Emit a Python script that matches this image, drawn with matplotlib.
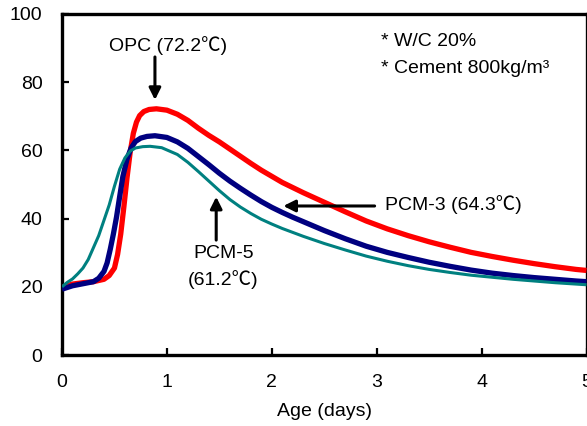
import matplotlib
matplotlib.use("Agg")
import matplotlib.pyplot as plt

plt.rcParams['font.family'] = ['Liberation Sans', 'Noto Sans CJK KR', 'DejaVu Sans']

# OPC (red)
opc_x = [0, 0.1, 0.2, 0.3, 0.4, 0.45, 0.5, 0.53, 0.56, 0.59, 0.62, 0.65, 0.68, 0.71, 0.74, 0.78, 0.83,
         0.9, 1.0, 1.1, 1.2, 1.3, 1.4, 1.5, 1.6, 1.7, 1.8, 1.9, 2.0, 2.1, 2.3, 2.5, 2.7, 2.9,
         3.1, 3.3, 3.5, 3.7, 3.9, 4.1, 4.3, 4.5, 4.7, 4.9, 5.0]
opc_y = [19.8, 20.8, 21.2, 21.5, 22.2, 23.3, 25.5, 29.5, 35.5, 43.5, 52, 59.5, 65, 68.3, 70.2, 71.4, 72.0,
         72.2, 71.8, 70.6, 68.8, 66.5, 64.4, 62.5, 60.4, 58.3, 56.2, 54.2, 52.4, 50.6, 47.6, 44.8, 42.0, 39.3,
         37.0, 35.0, 33.2, 31.6, 30.1, 28.9, 27.8, 26.8, 25.9, 25.1, 24.8]

# PCM-3 (navy)
pcm3_x = [0, 0.1, 0.2, 0.3, 0.35, 0.4, 0.43, 0.46, 0.49, 0.52, 0.55, 0.58, 0.62, 0.66, 0.7, 0.75, 0.81,
          0.886, 1.0, 1.1, 1.2, 1.3, 1.4, 1.5, 1.6, 1.7, 1.8, 1.9, 2.0, 2.1, 2.2, 2.3, 2.5, 2.7, 2.9,
          3.1, 3.3, 3.5, 3.7, 3.9, 4.1, 4.3, 4.5, 4.7, 4.9, 5.0]
pcm3_y = [19.3, 20.3, 20.9, 21.5, 22.5, 24.5, 27, 31, 35.5, 40.5, 46.5, 52.3, 57.5, 60.8, 62.6, 63.6, 64.1,
          64.3, 63.8, 62.5, 60.6, 58.2, 55.8, 53.3, 51.0, 48.9, 46.9, 45.0, 43.3, 41.8, 40.4, 39.1, 36.5, 34.1, 31.9,
          30.1, 28.6, 27.2, 26.0, 24.9, 24.0, 23.3, 22.7, 22.2, 21.7, 21.5]

# PCM-5 (teal)
pcm5_x = [0, 0.05, 0.1, 0.15, 0.2, 0.25, 0.3, 0.35, 0.4, 0.45, 0.5, 0.55, 0.6, 0.65, 0.7, 0.77, 0.84,
          0.95, 1.1, 1.2, 1.3, 1.4, 1.5, 1.6, 1.7, 1.8, 1.9, 2.0, 2.1, 2.3, 2.5, 2.7, 2.9,
          3.1, 3.3, 3.5, 3.7, 3.9, 4.1, 4.3, 4.5, 4.7, 4.9, 5.0]
pcm5_y = [20.0, 21.3, 22.3, 23.8, 25.5, 28.0, 31.5, 35.0, 39.5, 44.0, 49.5, 54.5, 57.8, 59.8, 60.7, 61.1, 61.2,
          60.8, 58.8, 56.5, 53.8, 51.0, 48.2, 45.6, 43.4, 41.5, 39.8, 38.4, 37.1, 34.8, 32.7, 30.8, 29.0,
          27.5, 26.2, 25.1, 24.2, 23.4, 22.8, 22.2, 21.7, 21.2, 20.8, 20.6]

x_ticks = [0, 1, 2, 3, 4, 5]
y_ticks = [0, 20, 40, 60, 80, 100]

fig = plt.figure(figsize=(5.87, 4.26), dpi=100)
ax = fig.add_axes([62 / 587, 71 / 426, 524.5 / 587, 341 / 426])

ax.plot(opc_x, opc_y, color='#ff0000', lw=3.8, solid_capstyle='butt', zorder=3)
ax.plot(pcm3_x, pcm3_y, color='#000080', lw=3.8, solid_capstyle='butt', zorder=4)
ax.plot(pcm5_x, pcm5_y, color='#008080', lw=2.2, solid_capstyle='butt', zorder=5)

ax.set_xlim(0, 5)
ax.set_ylim(0, 100)
ax.set_xticks(x_ticks)
ax.set_yticks(y_ticks)
ax.tick_params(direction='in', length=5, width=1.6, labelsize=14, pad=14,
               top=False, right=False)
for s in ax.spines.values():
    s.set_linewidth(2.4)
    s.set_color('black')
ax.set_xlabel('Age (days)', fontsize=14, labelpad=8)

fs = 14
arrow_kw = dict(arrowstyle='-|>,head_length=0.7,head_width=0.35', color='black', lw=2.2,
                shrinkA=0, shrinkB=0)

ax.text(1.01, 90.9, 'OPC (72.2℃)', ha='center', va='center', fontsize=fs)
ax.annotate('', xy=(0.886, 74.8), xytext=(0.886, 87.4), arrowprops=arrow_kw)

ax.text(3.08, 44.0, 'PCM-3 (64.3℃)', ha='left', va='center', fontsize=fs)
ax.annotate('', xy=(2.11, 43.7), xytext=(2.98, 43.7), arrowprops=arrow_kw)

ax.text(1.54, 29.9, 'PCM-5', ha='center', va='center', fontsize=fs)
ax.text(1.54, 22.0, '(61.2℃)', ha='center', va='center', fontsize=fs)
ax.annotate('', xy=(1.47, 46.4), xytext=(1.47, 33.7), arrowprops=arrow_kw)

ax.text(3.04, 91.9, '* W/C 20%', ha='left', va='center', fontsize=fs)
ax.text(3.04, 84.0, '* Cement 800kg/m³', ha='left', va='center', fontsize=fs)

fig.savefig('out.png', dpi=100)
